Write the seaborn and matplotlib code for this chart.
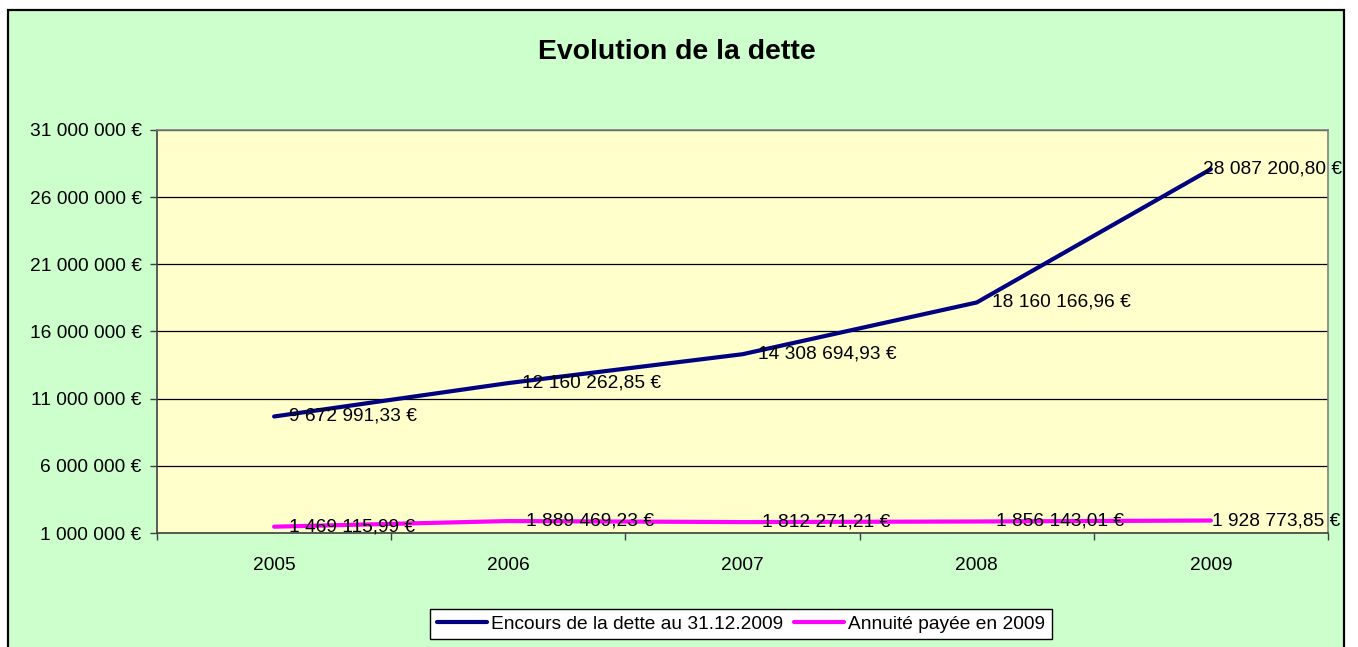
import pandas as pd
import matplotlib.pyplot as plt
import seaborn as sns
from matplotlib.patches import Rectangle
from matplotlib.ticker import FuncFormatter, FixedLocator

sns.set_theme(style='white')
plt.rcParams['font.family'] = ['Liberation Sans', 'DejaVu Sans']
plt.rcParams['text.color'] = 'black'
plt.rcParams['xtick.color'] = 'black'
plt.rcParams['ytick.color'] = 'black'

# Data
years = ['2005', '2006', '2007', '2008', '2009']
encours = [9672991.33, 12160262.85, 14308694.93, 18160166.96, 28087200.80]
annuite = [1469115.99, 1889469.23, 1812271.21, 1856143.01, 1928773.85]
series_names = ['Encours de la dette au 31.12.2009', 'Annuité payée en 2009']
y_ticks = [1000000, 6000000, 11000000, 16000000, 21000000, 26000000, 31000000]

colors = {series_names[0]: '#000080', series_names[1]: '#FF00FF'}

df = pd.DataFrame({
    'annee': years * 2,
    'montant': encours + annuite,
    'serie': [series_names[0]] * len(years) + [series_names[1]] * len(years),
})


def fr_money(v, decimals=2):
    s = f"{v:,.{decimals}f}".replace(',', ' ').replace('.', ',')
    return s + ' €'


fs = 13.8

fig = plt.figure(figsize=(13.58, 6.47), dpi=100)
fig.patch.set_facecolor('white')

# outer chart area (green box with black border, running off the bottom)
fig.patches.append(Rectangle((8 / 1358, -0.05), (1344 - 8) / 1358, 1 - 10 / 647 + 0.05,
                             transform=fig.transFigure, facecolor='#CCFFCC',
                             edgecolor='black', linewidth=1.6, zorder=-5))

ax = fig.add_axes([157 / 1358, 1 - 533 / 647, (1328 - 157) / 1358, (533 - 130) / 647])
ax.set_zorder(2)
ax.set_facecolor('#FFFFCC')

sns.lineplot(data=df, x='annee', y='montant', hue='serie', palette=colors,
             linewidth=3, sort=False, legend=False, ax=ax)

ax.set_xlim(-0.5, len(years) - 0.5)
ax.set_ylim(y_ticks[0], y_ticks[-1])
ax.set_yticks(y_ticks)
ax.yaxis.set_major_formatter(FuncFormatter(lambda v, p: fr_money(v, 0)))
ax.grid(axis='y', color='black', linewidth=0.9)
ax.set_axisbelow(True)

ax.set_xticks(range(len(years)))
ax.set_xticklabels(years)
ax.xaxis.set_minor_locator(FixedLocator([i - 0.5 for i in range(len(years) + 1)]))
ax.tick_params(axis='x', which='major', length=0, pad=17, labelsize=fs)
ax.tick_params(axis='x', which='minor', length=5, width=1, color='#404040', direction='out', bottom=True)
ax.tick_params(axis='y', length=5, width=1, color='#404040', direction='out', left=True,
               pad=6, labelsize=fs)
ax.set_xlabel('')
ax.set_ylabel('')

for side in ['top', 'right']:
    ax.spines[side].set_color('#808080')
    ax.spines[side].set_linewidth(1.2)
for side in ['left', 'bottom']:
    ax.spines[side].set_color('#404040')
    ax.spines[side].set_linewidth(1.2)

# data labels, placed to the right of each point
offsets = [11, 10, 11, 11, -6]
offsets_b = [11, 13, 14, 14, 1]
for i, v in enumerate(encours):
    ax.annotate(fr_money(v), (i, v), xytext=(offsets[i], 0), textcoords='offset points',
                ha='left', va='center', fontsize=fs, color='black', annotation_clip=False)
for i, v in enumerate(annuite):
    ax.annotate(fr_money(v), (i, v), xytext=(offsets_b[i], 0), textcoords='offset points',
                ha='left', va='center', fontsize=fs, color='black', annotation_clip=False)

fig.text(677 / 1358, 1 - 52 / 647, 'Evolution de la dette', ha='center', va='center',
         fontsize=20.4, fontweight='bold')

handles = [plt.Line2D([], [], color=colors[n], linewidth=3) for n in series_names]
leg = fig.legend(handles, series_names, loc='center', bbox_to_anchor=(741 / 1358, 1 - 624 / 647),
                 ncol=2, fontsize=fs, frameon=True, fancybox=False, handlelength=2.6,
                 handletextpad=0.2, columnspacing=0.6, borderpad=0.35)
leg.get_frame().set_edgecolor('black')
leg.get_frame().set_linewidth(1)
leg.get_frame().set_facecolor('white')
leg.get_frame().set_alpha(1)

fig.savefig('out.png', dpi=100, facecolor='white')
